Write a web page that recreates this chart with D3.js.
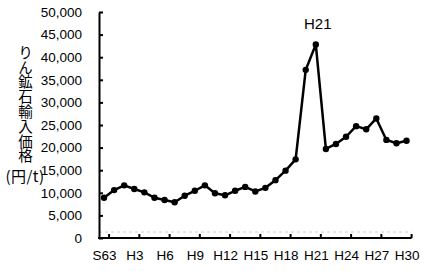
<!DOCTYPE html>
<html>
<head>
<meta charset="utf-8">
<script src="https://cdn.jsdelivr.net/npm/d3@7"></script>
<style>
  body { margin: 0; background: #fff; }
  svg { display: block; }
  text { font-family: "Liberation Sans", "Noto Sans CJK JP", sans-serif; fill: #000; }
</style>
</head>
<body>
<div id="chart"></div>
<script>
// 年度 (S63 .. H30)
const years = ["S63"].concat(d3.range(1, 31).map(i => "H" + i));
// りん鉱石輸入価格 (円/t)
const prices = [
    8900, 10600, 11650, 10850, 10100, 8900, 8400, 7900, 9350, 10450,
    11650, 9900, 9450, 10450, 11300, 10300, 11100, 12800, 14900, 17400,
    37200, 42800, 19700, 20800, 22400, 24750, 24050, 26450, 21700, 20950,
    21500
];
const yTicks = d3.range(0, 50001, 5000);
const peakLabel = "H21";

const W = 425, H = 271;
const plotL = 99, plotR = 411.6, plotT = 12, plotB = 238;

const svg = d3.select("#chart").append("svg")
    .attr("width", W)
    .attr("height", H);

const x = d3.scalePoint()
    .domain(years)
    .range([plotL, plotR])
    .padding(0.5);
const step = x.step();

const y = d3.scaleLinear()
    .domain([0, 50000])
    .range([plotB, plotT]);

// faint dashed line just above the axis
svg.append("line")
    .attr("x1", plotL).attr("x2", plotR)
    .attr("y1", plotB - 6).attr("y2", plotB - 6)
    .attr("stroke", "#d0d0d0")
    .attr("stroke-dasharray", "3,3");

// y axis
const yAxis = svg.append("g")
    .attr("transform", "translate(" + plotL + ",0)")
    .call(d3.axisLeft(y)
        .tickValues(yTicks)
        .tickSizeInner(-4)
        .tickSizeOuter(0)
        .tickPadding(17)
        .tickFormat(d3.format(",")));
yAxis.select(".domain").attr("stroke", "#000").attr("stroke-width", 2);
yAxis.selectAll(".tick line").attr("stroke-width", 2);
yAxis.selectAll("text")
    .style("font-size", "13.5px")
    .style("font-family", "Liberation Sans, sans-serif");

// x axis labels every 3 years
const labelYears = years.filter((d, i) => i % 3 === 0);
const xAxis = svg.append("g")
    .attr("transform", "translate(0," + plotB + ")")
    .call(d3.axisBottom(x)
        .tickValues(labelYears)
        .tickSize(0)
        .tickPadding(12));
xAxis.select(".domain").remove();
xAxis.selectAll("text")
    .style("font-size", "13.5px")
    .style("font-family", "Liberation Sans, sans-serif");

svg.append("line")
    .attr("x1", plotL - 1).attr("x2", plotR)
    .attr("y1", plotB).attr("y2", plotB)
    .attr("stroke", "#000").attr("stroke-width", 2);

// tick marks sit between categories
svg.append("g").selectAll("line")
    .data(labelYears)
    .join("line")
    .attr("x1", d => x(d) + step / 2)
    .attr("x2", d => x(d) + step / 2)
    .attr("y1", plotB)
    .attr("y2", plotB - 4)
    .attr("stroke", "#000")
    .attr("stroke-width", 2);

// series
const data = years.map((d, i) => ({year: d, value: prices[i]}));

svg.append("path")
    .datum(data)
    .attr("fill", "none")
    .attr("stroke", "#000")
    .attr("stroke-width", 2.5)
    .attr("stroke-linejoin", "round")
    .attr("d", d3.line().x(d => x(d.year)).y(d => y(d.value)));

svg.append("g").selectAll("circle")
    .data(data)
    .join("circle")
    .attr("cx", d => x(d.year))
    .attr("cy", d => y(d.value))
    .attr("r", 3.2)
    .attr("fill", "#000");

// peak annotation
svg.append("text")
    .attr("x", x(peakLabel) + 2)
    .attr("y", 29)
    .attr("text-anchor", "middle")
    .style("font-size", "15px")
    .text(peakLabel);

// y axis title, written top to bottom
svg.append("text")
    .attr("x", 25.5)
    .attr("y", 45)
    .attr("writing-mode", "vertical-rl")
    .style("font-size", "14.5px")
    .style("letter-spacing", "0.3px")
    .style("font-family", "Noto Sans CJK JP, sans-serif")
    .text("りん鉱石輸入価格");

svg.append("text")
    .attr("x", 25)
    .attr("y", 182)
    .attr("text-anchor", "middle")
    .style("font-size", "15px")
    .style("letter-spacing", "0.5px")
    .style("font-family", "Noto Sans CJK JP, sans-serif")
    .text("(円/t)");
</script>
</body>
</html>
